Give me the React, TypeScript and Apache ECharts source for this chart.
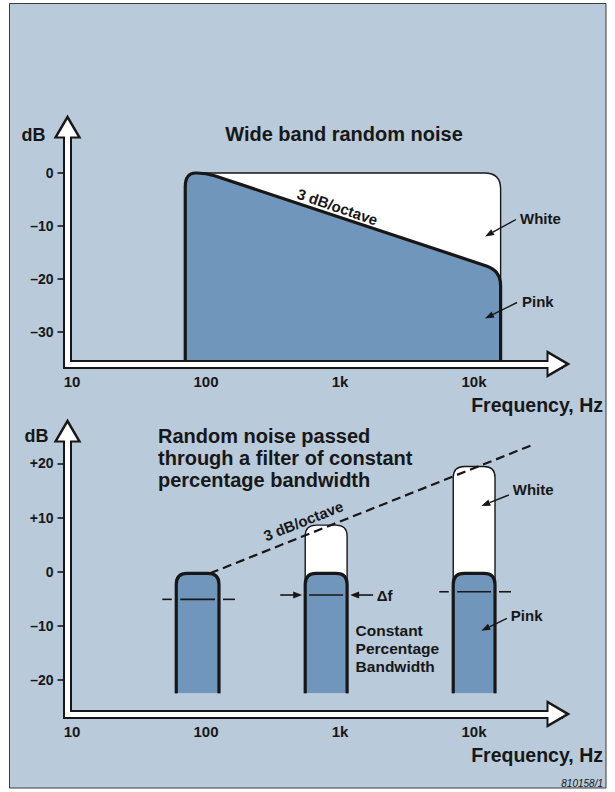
import React, { useEffect, useRef } from 'react';
import * as echarts from 'echarts';

// ---------- Top chart: wide band random noise ----------
const freqTickHz = [10, 100, 1000, 10000];
const freqTickLabels = ['10', '100', '1k', '10k'];
const topDbTicks = [-30, -20, -10, 0];
const wideWhiteHz = [70, 70, 15800, 15800];
const wideWhiteDb = [-36, 0, 0, -36];
const widePinkHz = [70, 70, 100, 15800, 15800];
const widePinkDb = [-36, 0, 0, -18.4, -36];

// ---------- Bottom chart: constant percentage bandwidth ----------
const bottomDbTicks = [-20, -10, 0, 10, 20];
const bandLowHz = [60, 550, 7000];
const bandHighHz = [125, 1130, 14350];
const bandPinkTopDb = [-0.3, -0.3, -0.3];
const bandWhiteTopDb = [-0.3, 8.6, 19.4];
const bandBottomDb = [-22.4, -22.4, -22.4];
const bandMarkDb = [-5.1, -4.3, -3.7];
const bandMarkKind = ['dash', 'arrow', 'dash'];
const slopeHz = [107, 27300];
const slopeDb = [-0.3, 23.4];

// ---------- styling ----------
const FONT = '"Liberation Sans", Arial, Helvetica, sans-serif';
const INK = '#171717';
const PANEL = '#b9cada';
const PINK = '#7097bb';
const X_MIN = 9.256;
const X_MAX = 42720;
const TOP_Y = [-36, 8.76];
const BOT_Y = [-26.25, 26.05];

function roundedPath(pts: number[][], radii: number[], close: boolean): string {
  let d = '';
  for (let i = 0; i < pts.length; i++) {
    const p = pts[i];
    const r = radii[i] || 0;
    if (r === 0 || i === 0 || i === pts.length - 1) {
      d += (i === 0 ? 'M' : 'L') + p[0] + ' ' + p[1] + ' ';
      continue;
    }
    const a = pts[i - 1];
    const b = pts[i + 1];
    const la = Math.hypot(a[0] - p[0], a[1] - p[1]);
    const lb = Math.hypot(b[0] - p[0], b[1] - p[1]);
    const ra = Math.min(r, la / 2);
    const rb = Math.min(r, lb / 2);
    const p1 = [p[0] + ((a[0] - p[0]) * ra) / la, p[1] + ((a[1] - p[1]) * ra) / la];
    const p2 = [p[0] + ((b[0] - p[0]) * rb) / lb, p[1] + ((b[1] - p[1]) * rb) / lb];
    d += `L${p1[0]} ${p1[1]} Q${p[0]} ${p[1]} ${p2[0]} ${p2[1]} `;
  }
  if (close) d += 'Z';
  return d;
}

const fmtHz = (v: number) => {
  const i = freqTickHz.findIndex((t) => Math.abs(Math.log10(v) - Math.log10(t)) < 1e-6);
  return i >= 0 ? freqTickLabels[i] : '';
};
const fmtDb = (plus: boolean) => (v: number) => {
  const r = Math.round(v);
  if (Math.abs(v - r) > 1e-6 || r % 10 !== 0) return '';
  if (r === 0) return '0';
  return r > 0 ? (plus ? '+' : '') + r : '\u2013' + Math.abs(r);
};

function xAxesFor(gridIndex: number) {
  const base = {
    type: 'log', logBase: 10, gridIndex, min: X_MIN, max: X_MAX, position: 'bottom',
    splitLine: { show: false }, axisTick: { show: false },
  };
  return [
    {
      ...base, z: 10,
      axisLine: { show: true, onZero: false, symbol: ['none', 'triangle'], symbolSize: [28, 24],
        lineStyle: { color: INK, width: 9, cap: 'square' } },
      axisLabel: { show: true, formatter: fmtHz, margin: 10, color: INK, fontSize: 15, fontWeight: 'bold', fontFamily: FONT },
    },
    {
      ...base, z: 11,
      axisLine: { show: true, onZero: false, symbol: ['none', 'triangle'], symbolSize: [20, 17], symbolOffset: [0, -1.5],
        lineStyle: { color: '#ffffff', width: 5, cap: 'square' } },
      axisLabel: { show: false },
    },
  ];
}

function yAxesFor(gridIndex: number, ext: number[], ticks: number[], plus: boolean) {
  const base = { type: 'value', gridIndex, min: ext[0], max: ext[1], position: 'left', splitLine: { show: false } };
  return [
    {
      ...base, z: 10,
      axisLine: { show: true, onZero: false, symbol: ['none', 'triangle'], symbolSize: [28, 24],
        lineStyle: { color: INK, width: 9, cap: 'square' } },
      axisTick: { show: true, length: 10, customValues: ticks, lineStyle: { color: INK, width: 1.6 } },
      axisLabel: { show: true, customValues: ticks, formatter: fmtDb(plus), margin: 14, color: INK, fontSize: 14, fontWeight: 'bold', fontFamily: FONT },
    },
    {
      ...base, z: 11,
      axisLine: { show: true, onZero: false, symbol: ['none', 'triangle'], symbolSize: [20, 17], symbolOffset: [0, -1.5],
        lineStyle: { color: '#ffffff', width: 5, cap: 'square' } },
      axisTick: { show: false },
      axisLabel: { show: false },
    },
  ];
}

function shapeSeries(hz: number[], db: number[], radii: number[], fill: string, lineWidth: number, xIdx: number, yIdx: number, z: number) {
  const data = hz.map((f, i) => [f, db[i]]);
  return {
    type: 'custom', xAxisIndex: xIdx, yAxisIndex: yIdx, z, silent: true, clip: false,
    data,
    renderItem: (params: any, api: any) => {
      if (params.dataIndex !== 0) return null;
      const pts = data.map((d) => api.coord(d));
      return {
        type: 'group',
        children: [
          { type: 'path', shape: { pathData: roundedPath(pts, radii, true) }, style: { fill, stroke: 'none' } },
          { type: 'path', shape: { pathData: roundedPath(pts, radii, false) }, style: { fill: 'none', stroke: INK, lineWidth } },
        ],
      };
    },
  };
}

function barSeries(tops: number[], fill: string, lineWidth: number, z: number) {
  const data = bandLowHz.map((lo, i) => [lo, bandHighHz[i], tops[i], bandBottomDb[i]]);
  return {
    type: 'custom', xAxisIndex: 2, yAxisIndex: 2, z, silent: true, clip: false,
    encode: { x: [0, 1], y: [2, 3] },
    data,
    renderItem: (params: any, api: any) => {
      const lo = api.value(0), hi = api.value(1), top = api.value(2), bot = api.value(3);
      const pts = [api.coord([lo, bot]), api.coord([lo, top]), api.coord([hi, top]), api.coord([hi, bot])];
      const radii = [0, 11, 11, 0];
      return {
        type: 'group',
        children: [
          { type: 'path', shape: { pathData: roundedPath(pts, radii, true) }, style: { fill, stroke: 'none' } },
          { type: 'path', shape: { pathData: roundedPath(pts, radii, false) }, style: { fill: 'none', stroke: INK, lineWidth } },
        ],
      };
    },
  };
}

const markerSeries = {
  type: 'custom', xAxisIndex: 2, yAxisIndex: 2, z: 5, silent: true, clip: false,
  encode: { x: [0, 1], y: 2 },
  data: bandLowHz.map((lo, i) => [lo, bandHighHz[i], bandMarkDb[i], bandMarkKind[i] === 'arrow' ? 1 : 0]),
  renderItem: (params: any, api: any) => {
    const lo = api.value(0), hi = api.value(1), db = api.value(2), kind = api.value(3);
    const pl = api.coord([lo, db]);
    const pr = api.coord([hi, db]);
    const y = pl[1], xl = pl[0], xr = pr[0];
    const ls = { stroke: INK, lineWidth: 1.6 };
    const children: any[] = [{ type: 'line', shape: { x1: xl + 4, y1: y, x2: xr - 4, y2: y }, style: ls }];
    if (kind === 0) {
      children.push({ type: 'line', shape: { x1: xl - 14, y1: y, x2: xl - 4.5, y2: y }, style: ls });
      children.push({ type: 'line', shape: { x1: xr + 4, y1: y, x2: xr + 16, y2: y }, style: ls });
    } else {
      children.push({ type: 'line', shape: { x1: xl - 25, y1: y, x2: xl - 10, y2: y }, style: ls });
      children.push({ type: 'polygon', shape: { points: [[xl - 3, y], [xl - 12, y - 3.5], [xl - 12, y + 3.5]] }, style: { fill: INK } });
      children.push({ type: 'line', shape: { x1: xr + 26, y1: y, x2: xr + 10, y2: y }, style: ls });
      children.push({ type: 'polygon', shape: { points: [[xr + 3, y], [xr + 12, y - 3.5], [xr + 12, y + 3.5]] }, style: { fill: INK } });
    }
    return { type: 'group', children };
  },
};

function txt(text: string, x: number, y: number, size: number, align: string, opts: any = {}) {
  const va = opts.va || 'middle';
  return {
    type: 'text', z: 40, x, y, rotation: opts.rotation || 0, silent: true,
    style: {
      text, fill: INK, fontSize: size, fontWeight: opts.weight || 'bold', fontStyle: opts.fontStyle || 'normal',
      fontFamily: FONT, align, verticalAlign: va, textAlign: align, textVerticalAlign: va,
      lineHeight: opts.lh,
    },
  };
}

function arrow(x1: number, y1: number, x2: number, y2: number) {
  const ang = Math.atan2(y2 - y1, x2 - x1);
  const L = 9, W = 3.3;
  const bx = x2 - L * Math.cos(ang), by = y2 - L * Math.sin(ang);
  const px = -Math.sin(ang) * W, py = Math.cos(ang) * W;
  return [
    { type: 'line', z: 40, silent: true, shape: { x1, y1, x2: bx, y2: by }, style: { stroke: INK, lineWidth: 1.4 } },
    { type: 'polygon', z: 40, silent: true, shape: { points: [[x2, y2], [bx + px, by + py], [bx - px, by - py]] }, style: { fill: INK } },
  ];
}

const option: any = {
  animation: false,
  backgroundColor: '#ffffff',
  grid: [
    { left: 67.5, top: 126.5, width: 491, height: 237.5, containLabel: false, outerBoundsMode: 'none' },
    { left: 67.5, top: 430.5, width: 491, height: 283.5, containLabel: false, outerBoundsMode: 'none' },
  ],
  xAxis: [...xAxesFor(0), ...xAxesFor(1)],
  yAxis: [...yAxesFor(0, TOP_Y, topDbTicks, false), ...yAxesFor(1, BOT_Y, bottomDbTicks, true)],
  graphic: [
    { type: 'rect', z: -10, silent: true, shape: { x: 9.5, y: 3.5, width: 596.5, height: 784.5 }, style: { fill: PANEL, stroke: '#3b3b3b', lineWidth: 1 } },
    txt('dB', 21.6, 134.5, 18, 'left'),
    txt('Wide band random noise', 344, 134, 20, 'center'),
    txt('3 dB/octave', 337.5, 206.7, 15, 'center', { rotation: -0.332 }),
    txt('White', 520, 218, 15, 'left'),
    txt('Pink', 522, 301, 15, 'left'),
    ...arrow(516, 219.5, 485, 236.5),
    ...arrow(517, 302.5, 485, 318.5),
    txt('Frequency, Hz', 603, 404.5, 19.5, 'right'),
    txt('dB', 24.4, 435.5, 18, 'left'),
    txt('Random noise passed\nthrough a filter of constant\npercentage bandwidth', 158, 424.5, 20, 'left', { va: 'top', lh: 22 }),
    txt('3 dB/octave', 303.3, 520.8, 15, 'center', { rotation: 0.377 }),
    txt('White', 512.8, 489.5, 15, 'left'),
    txt('Pink', 510.8, 615, 15, 'left'),
    ...arrow(508.8, 495, 481.3, 506),
    ...arrow(506.9, 618.3, 481.3, 630.7),
    txt('Constant\nPercentage\nBandwidth', 355.6, 621, 15.5, 'left', { va: 'top', lh: 18 }),
    txt('\u0394f', 376.7, 595, 15, 'left'),
    txt('Frequency, Hz', 603, 755, 19.5, 'right'),
    txt('810158/1', 603, 783, 10, 'right', { weight: 'normal', fontStyle: 'italic' }),
  ],
  series: [
    shapeSeries(wideWhiteHz, wideWhiteDb, [0, 14, 16, 0], '#ffffff', 1.4, 0, 0, 2),
    shapeSeries(widePinkHz, widePinkDb, [0, 14, 9, 15, 0], PINK, 3.2, 0, 0, 3),
    barSeries(bandWhiteTopDb, '#ffffff', 1.4, 2),
    barSeries(bandPinkTopDb, PINK, 3.2, 3),
    markerSeries,
    {
      type: 'line', xAxisIndex: 2, yAxisIndex: 2, z: 6, silent: true,
      data: slopeHz.map((f, i) => [f, slopeDb[i]]),
      symbol: 'none', showSymbol: false,
      lineStyle: { color: INK, width: 2.2, type: [9, 5] },
    },
  ],
};

export default function App() {
  const ref = useRef<HTMLDivElement>(null);
  useEffect(() => {
    if (!ref.current) return;
    const chart = echarts.init(ref.current, undefined, { renderer: 'svg' });
    chart.setOption(option);
    return () => chart.dispose();
  }, []);
  return (
    <div
      ref={ref}
      style={{ position: 'absolute', left: 0, top: 0, width: 615, height: 792, background: '#fff' }}
    />
  );
}
